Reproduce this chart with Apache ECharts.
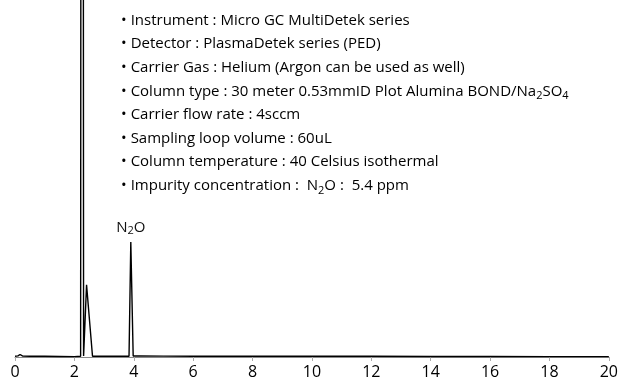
<!DOCTYPE html>
<html>
<head>
<meta charset="utf-8">
<script src="https://cdn.jsdelivr.net/npm/echarts@6/dist/echarts.min.js"></script>
<style>
  html, body { margin: 0; padding: 0; background: #fff; }
  #chart { width: 621px; height: 387px; }
</style>
</head>
<body>
<div id="chart"></div>
<script>
// retention time (min) and detector signal
var times = [0, 0.1, 0.17, 0.25, 0.5, 1.0, 1.5, 2.0, 2.21, 2.22, 2.30, 2.31, 2.37, 2.41, 2.61, 3.0, 3.5, 3.84, 3.9, 3.98, 4.2, 5, 6, 8, 10, 12, 14, 16, 18, 20];
var signal = [0.2, 0.3, 0.7, 0.3, 0.2, 0.2, 0.15, 0.1, 0.2, 150, 150, 0.3, 0.3, 20.2, 0.2, 0.2, 0.2, 0.2, 32.2, 0.3, 0.3, 0.25, 0.2, 0.2, 0.2, 0.2, 0.15, 0.15, 0.1, 0.1];
var xTicks = [0, 2, 4, 6, 8, 10, 12, 14, 16, 18, 20];
var notes = [
    'Instrument : Micro GC MultiDetek series',
    'Detector : PlasmaDetek series (PED)',
    'Carrier Gas : Helium (Argon can be used as well)',
    'Column type : 30 meter 0.53mmID Plot Alumina BOND/Na{s|2}SO{s|4}',
    'Carrier flow rate : 4sccm',
    'Sampling loop volume : 60uL',
    'Column temperature : 40 Celsius isothermal',
    'Impurity concentration :  N{s|2}O :  5.4 ppm'
];
var peakLabel = { name: 'N{s|2}O', x: 3.9, y: 32.2 };

var chart = echarts.init(document.getElementById('chart'));
var font = '"Open Sans", "Liberation Sans", sans-serif';

var rich = {
    b: { fontSize: 15, fontFamily: font, color: '#000', lineHeight: 20, padding: [0, 4, 0, 0] },
    t: { fontSize: 15, fontFamily: font, color: '#111', lineHeight: 20 },
    s: { fontSize: 11, fontFamily: font, color: '#111', lineHeight: 20, verticalAlign: 'bottom', padding: [7, 0, 0, 0] }
};

var graphics = notes.map(function (t, i) {
    return {
        type: 'text',
        left: 121,
        top: 13 + i * 23.6,
        style: {
            text: '{b|\u2022}{t|' + t.replace(/\{s\|(\w)\}/g, '}{s|$1}{t|') + '}',
            rich: rich
        }
    };
});

var option = {
    animation: false,
    grid: { left: 15, right: 12, top: 0, bottom: 30 },
    xAxis: {
        type: 'value',
        min: 0,
        max: 20,
        interval: 2,
        axisLine: { lineStyle: { color: '#888', width: 1 } },
        axisTick: { show: true, length: 4, lineStyle: { color: '#aaa' } },
        axisLabel: { fontSize: 16, color: '#000', fontFamily: font, margin: 7,
            formatter: function (v) { return xTicks.indexOf(v) >= 0 ? v : ''; } },
        splitLine: { show: false }
    },
    yAxis: { type: 'value', min: 0, max: 100, show: false },
    graphic: graphics,
    series: [{
        type: 'line',
        data: times.map(function (t, i) { return [t, signal[i]]; }),
        symbol: 'none',
        lineStyle: { color: '#000', width: 1.4 },
        clip: true,
        markPoint: {
            symbol: 'circle',
            symbolSize: 1,
            itemStyle: { color: 'rgba(0,0,0,0)' },
            data: [{ coord: [peakLabel.x, peakLabel.y] }],
            label: {
                show: true,
                position: 'top',
                distance: 5,
                formatter: peakLabel.name,
                fontSize: 15, fontFamily: font, color: '#111',
                rich: {
                    s: { fontSize: 11, fontFamily: font, color: '#111', verticalAlign: 'bottom', padding: [7, 0, 0, 0] }
                }
            }
        }
    }]
};
chart.setOption(option);
</script>
</body>
</html>
